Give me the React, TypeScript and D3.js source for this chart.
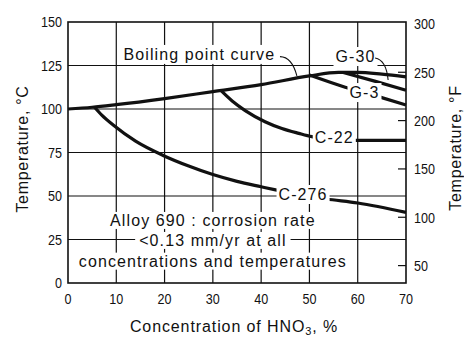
import React, { useEffect, useRef } from "react";
import * as d3 from "d3";

const xTicks = [0, 10, 20, 30, 40, 50, 60, 70];
const yTicksC = [0, 25, 50, 75, 100, 125, 150];
const yTicksF = [50, 100, 150, 200, 250, 300];
const gridC = [25, 50, 75, 100, 125];
const gridX = [10, 20, 30, 40, 50, 60];

const boilingX = [0, 5, 10, 20, 30, 40, 50, 56, 60, 65, 70];
const boilingY = [100, 101, 102.5, 106, 110, 114, 119, 121, 121, 120, 118.5];
const g30X = [57, 63.5, 70];
const g30Y = [121, 116, 110.8];
const g3X = [50, 57.4, 64.3, 70];
const g3Y = [119.5, 112.5, 107.1, 102.3];
const c22X = [31.6, 34, 36.7, 40.8, 44.3, 47.8, 50.5, 55, 59, 70];
const c22Y = [110.8, 104.6, 99.1, 92.7, 88.8, 86, 84.1, 82.6, 82, 82];
const c276X = [5.5, 7, 9.5, 14, 19.7, 25, 30, 35, 40, 43, 53.5, 60, 70];
const c276Y = [101, 96.5, 90.5, 81.5, 73.3, 67.2, 62.3, 58.4, 55.3, 53.5, 48.3, 46, 40.6];

const labelText = ["Boiling point curve", "G-30", "G-3", "C-22", "C-276"];
const labelX = [11.5, 55.4, 58.3, 51.1, 43.6];
const labelY = [128.2, 127, 106.3, 80.5, 47.7];

const noteLines = ["Alloy 690 : corrosion rate", "<0.13 mm/yr at all", "concentrations and temperatures"];
const noteX = 30;
const noteY = [32.8, 21.3, 9.4];

const leaderBoiling = [[43.9, 130.1], [46.4, 129.9], [47.4, 119]];
const leaderG30 = [[63.6, 129.3], [65.9, 128.2], [66.3, 116.7]];

const W = 464;
const H = 337;
const FONT = "'Liberation Sans', Arial, Helvetica, sans-serif";

export default function App() {
  const ref = useRef<SVGSVGElement>(null);

  useEffect(() => {
    const svg = d3.select(ref.current);
    svg.selectAll("*").remove();

    const x = d3.scaleLinear().domain([0, 70]).range([68, 406]);
    const y = d3.scaleLinear().domain([0, 150]).range([283, 22]);
    const yF = (f: number) => y(((f - 32) * 5) / 9);

    const g = svg.append("g");

    // gridlines
    g.selectAll(".gh")
      .data(gridC)
      .enter()
      .append("line")
      .attr("x1", x(0))
      .attr("x2", x(70))
      .attr("y1", (d) => y(d))
      .attr("y2", (d) => y(d))
      .attr("stroke", "#111")
      .attr("stroke-width", 1.2);
    g.selectAll(".gv")
      .data(gridX)
      .enter()
      .append("line")
      .attr("x1", (d) => x(d))
      .attr("x2", (d) => x(d))
      .attr("y1", y(0))
      .attr("y2", y(150))
      .attr("stroke", "#111")
      .attr("stroke-width", 1.2);

    // curves
    const line = d3
      .line<[number, number]>()
      .x((d) => x(d[0]))
      .y((d) => y(d[1]))
      .curve(d3.curveMonotoneX);
    const series: [number[], number[]][] = [
      [boilingX, boilingY],
      [g30X, g30Y],
      [g3X, g3Y],
      [c22X, c22Y],
      [c276X, c276Y],
    ];
    series.forEach(([xs, ys]) => {
      const pts = xs.map((v, i) => [v, ys[i]] as [number, number]);
      g.append("path")
        .attr("d", line(pts))
        .attr("fill", "none")
        .attr("stroke", "#111")
        .attr("stroke-width", 3.2)
        .attr("stroke-linecap", "butt");
    });

    // labels with white masks
    const addMaskedText = (
      txt: string,
      px: number,
      py: number,
      anchor: string,
      padX: number,
      padY: number
    ) => {
      const grp = g.append("g");
      const rect = grp.append("rect").attr("fill", "#fff");
      const t = grp
        .append("text")
        .attr("x", px)
        .attr("y", py)
        .attr("text-anchor", anchor)
        .attr("font-family", FONT)
        .attr("font-size", 16)
        .attr("letter-spacing", 1.1)
        .attr("fill", "#111")
        .text(txt);
      const bb = (t.node() as SVGTextElement).getBBox();
      rect
        .attr("x", bb.x - padX)
        .attr("y", bb.y - padY)
        .attr("width", bb.width + 2 * padX)
        .attr("height", bb.height + 2 * padY);
    };

    labelText.forEach((txt, i) => {
      addMaskedText(txt, x(labelX[i]), y(labelY[i]), "start", i === 0 ? 6 : 2, 1);
    });

    noteLines.forEach((txt, i) => {
      addMaskedText(txt, x(noteX), y(noteY[i]), "middle", 4, 0);
    });

    // leaders
    [leaderBoiling, leaderG30].forEach((pts) => {
      const p = d3.path();
      p.moveTo(x(pts[0][0]), y(pts[0][1]));
      p.quadraticCurveTo(x(pts[1][0]), y(pts[1][1]), x(pts[2][0]), y(pts[2][1]));
      g.append("path")
        .attr("d", p.toString())
        .attr("fill", "none")
        .attr("stroke", "#111")
        .attr("stroke-width", 1.1);
    });

    // frame
    g.append("rect")
      .attr("x", x(0))
      .attr("y", y(150))
      .attr("width", x(70) - x(0))
      .attr("height", y(0) - y(150))
      .attr("fill", "none")
      .attr("stroke", "#111")
      .attr("stroke-width", 1.6);

    // right axis ticks (inward)
    g.selectAll(".tf")
      .data(yTicksF.filter((f) => f < 300))
      .enter()
      .append("line")
      .attr("x1", x(70) - 8)
      .attr("x2", x(70))
      .attr("y1", (d) => yF(d))
      .attr("y2", (d) => yF(d))
      .attr("stroke", "#111")
      .attr("stroke-width", 1.2);

    // tick labels
    const tickLabel = (txt: string, px: number, py: number, anchor: string) => {
      g.append("text")
        .attr("x", px)
        .attr("y", py)
        .attr("text-anchor", anchor)
        .attr("font-family", FONT)
        .attr("font-size", 15)
        .attr("textLength", txt.length * 7)
        .attr("lengthAdjust", "spacingAndGlyphs")
        .attr("fill", "#111")
        .text(txt);
    };
    yTicksC.forEach((v) => tickLabel(String(v), 62, y(v) + 5.3, "end"));
    yTicksF.forEach((v) => tickLabel(String(v), 414, yF(v) + 5.3, "start"));
    xTicks.forEach((v) => tickLabel(String(v), x(v), 304.3, "middle"));

    // axis titles
    const title = (px: number, py: number, rot: number) =>
      g
        .append("text")
        .attr("transform", `translate(${px},${py}) rotate(${rot})`)
        .attr("text-anchor", "middle")
        .attr("font-family", FONT)
        .attr("font-size", 16)
        .attr("letter-spacing", 0.7)
        .attr("fill", "#111");
    title(28, 149, -90).text("Temperature, °C");
    title(461, 148, -90).text("Temperature, °F");
    const bt = title(234, 332, 0).attr("letter-spacing", 0.9);
    bt.append("tspan").text("Concentration of HNO");
    bt.append("tspan").attr("font-size", 11).attr("dy", 2.5).text("3");
    bt.append("tspan").attr("dy", -2.5).text(", %");
  }, []);

  return (
    <svg
      ref={ref}
      width={W}
      height={H}
      style={{ position: "absolute", left: 0, top: 0, background: "#fff" }}
    />
  );
}
